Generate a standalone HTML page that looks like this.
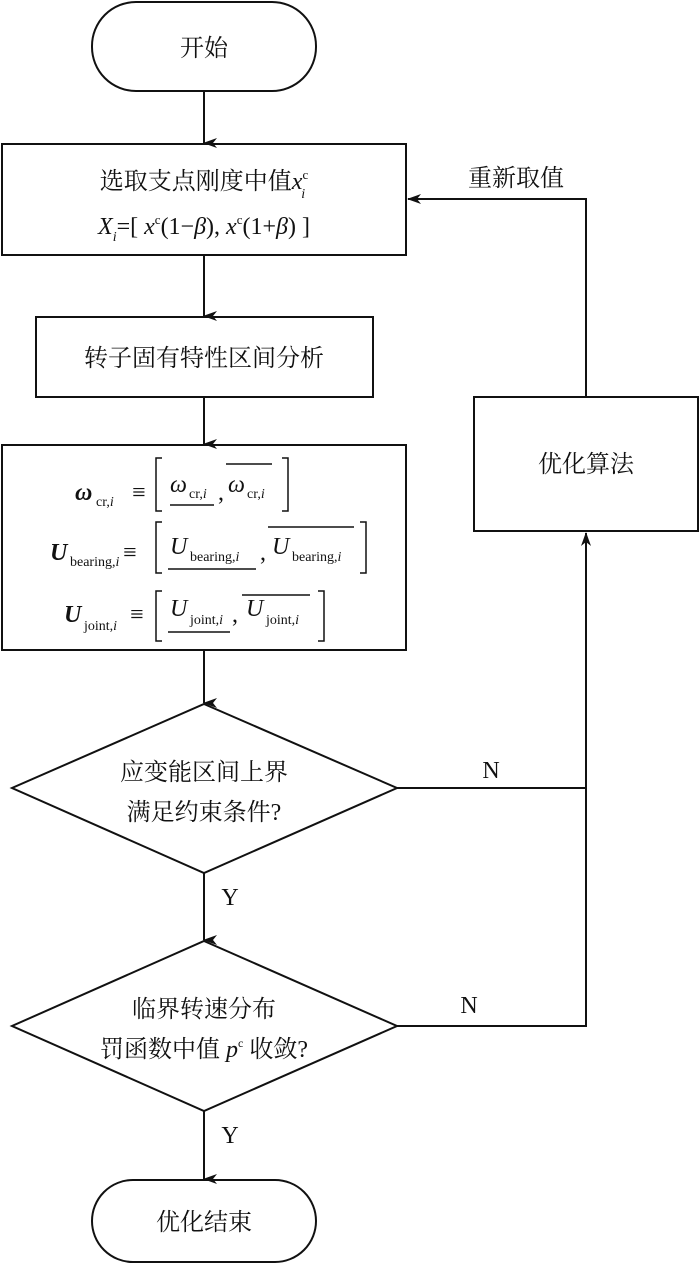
<!DOCTYPE html>
<html><head><meta charset="utf-8"><style>
html,body{margin:0;padding:0;background:#fff;}
svg{display:block;}
text{font-family:"Liberation Serif","Noto Serif CJK SC","Noto Sans CJK SC",serif;fill:#111;}
</style></head><body>
<svg width="700" height="1270" viewBox="0 0 700 1270" xmlns="http://www.w3.org/2000/svg">
<defs><marker id="a" markerWidth="10" markerHeight="14" refX="5" refY="13" orient="auto-start-reverse" markerUnits="userSpaceOnUse" viewBox="0 0 10 14"><path d="M0,0 L5,14 L10,0 L5,4 Z" fill="#111"/></marker>
<marker id="h" markerWidth="14" markerHeight="10" refX="1" refY="5" orient="0" markerUnits="userSpaceOnUse" viewBox="0 0 14 10"><path d="M0,5 L14,0 L10,5 L14,10 Z" fill="#111"/></marker>
<marker id="u" markerWidth="10" markerHeight="14" refX="5" refY="1" orient="0" markerUnits="userSpaceOnUse" viewBox="0 0 10 14"><path d="M5,0 L0,14 L5,10 L10,14 Z" fill="#111"/></marker></defs>
<g fill="none" stroke="#111" stroke-width="2">
<rect x="92" y="2" width="224" height="89" rx="44" ry="44"/>
<rect x="2" y="144" width="404" height="111"/>
<rect x="36" y="317" width="337" height="80"/>
<rect x="2" y="445" width="404" height="205"/>
<polygon points="204,704 397,788 204,873 12,788"/>
<polygon points="204,941 397,1026 204,1111 12,1026"/>
<rect x="92" y="1180" width="224" height="82" rx="41" ry="41"/>
<rect x="474" y="397" width="224" height="134"/>
<line x1="204" y1="91" x2="204" y2="143" marker-end="url(#a)"/>
<line x1="204" y1="255" x2="204" y2="316" marker-end="url(#a)"/>
<line x1="204" y1="397" x2="204" y2="444" marker-end="url(#a)"/>
<line x1="204" y1="650" x2="204" y2="703" marker-end="url(#a)"/>
<line x1="204" y1="873" x2="204" y2="940" marker-end="url(#a)"/>
<line x1="204" y1="1111" x2="204" y2="1179" marker-end="url(#a)"/>
<polyline points="586,397 586,199 408,199" marker-end="url(#h)"/>
<polyline points="397,788 586,788"/>
<polyline points="397,1026 586,1026 586,533" marker-end="url(#u)"/>
</g>
<g font-size="24" text-anchor="middle">
<text x="204" y="56">开始</text>
<text x="204" y="189">选取支点刚度中值<tspan font-style="italic">x</tspan><tspan font-size="13" dy="-10">c</tspan><tspan font-size="14" font-style="italic" dx="-7" dy="19">i</tspan></text>
<text x="204" y="234"><tspan font-style="italic">X</tspan><tspan font-size="14" font-style="italic" dy="7">i</tspan><tspan dy="-7">=[ </tspan><tspan font-style="italic">x</tspan><tspan font-size="13" dy="-10">c</tspan><tspan dy="10">(1−</tspan><tspan font-style="italic">β</tspan>), <tspan font-style="italic">x</tspan><tspan font-size="13" dy="-10">c</tspan><tspan dy="10">(1+</tspan><tspan font-style="italic">β</tspan>) ]</text>
<text x="204" y="366">转子固有特性区间分析</text>
<text x="586" y="472">优化算法</text>
<text x="516" y="186">重新取值</text>
<text x="204" y="780">应变能区间上界</text>
<text x="204" y="820">满足约束条件?</text>
<text x="204" y="1017">临界转速分布</text>
<text x="204" y="1057">罚函数中值 <tspan font-style="italic">p</tspan><tspan font-size="12" dy="-10">c</tspan><tspan dy="10"> 收敛?</tspan></text>
<text x="204" y="1230">优化结束</text>
<text x="230" y="905">Y</text>
<text x="230" y="1143">Y</text>
<text x="491" y="778">N</text>
<text x="469" y="1013">N</text>
</g>
<g font-size="24">
<text x="75" y="500" font-weight="bold" font-style="italic">ω</text><text x="96" y="506" font-size="14">cr,<tspan font-style="italic">i</tspan></text>
<text x="132" y="500">≡</text>
<path d="M162,458 h-6 v53 h6 M282,458 h6 v53 h-6" fill="none" stroke="#111" stroke-width="1.5"/>
<text x="170" y="492" font-style="italic">ω</text><text x="189" y="498" font-size="14">cr,<tspan font-style="italic">i</tspan></text>
<line x1="170" y1="505" x2="214" y2="505" stroke="#111" stroke-width="1.5"/>
<text x="218" y="500">,</text>
<text x="228" y="492" font-style="italic">ω</text><text x="247" y="498" font-size="14">cr,<tspan font-style="italic">i</tspan></text>
<line x1="226" y1="464" x2="272" y2="464" stroke="#111" stroke-width="1.5"/>

<text x="50" y="560" font-weight="bold" font-style="italic">U</text><text x="70" y="566" font-size="14">bearing,<tspan font-style="italic">i</tspan></text>
<text x="123" y="560">≡</text>
<path d="M162,522 h-6 v51 h6 M360,522 h6 v51 h-6" fill="none" stroke="#111" stroke-width="1.5"/>
<text x="170" y="554" font-style="italic">U</text><text x="190" y="561" font-size="14">bearing,<tspan font-style="italic">i</tspan></text>
<line x1="168" y1="569" x2="256" y2="569" stroke="#111" stroke-width="1.5"/>
<text x="260" y="560">,</text>
<text x="272" y="554" font-style="italic">U</text><text x="292" y="561" font-size="14">bearing,<tspan font-style="italic">i</tspan></text>
<line x1="268" y1="527" x2="354" y2="527" stroke="#111" stroke-width="1.5"/>

<text x="64" y="622" font-weight="bold" font-style="italic">U</text><text x="84" y="630" font-size="14">joint,<tspan font-style="italic">i</tspan></text>
<text x="130" y="622">≡</text>
<path d="M162,591 h-6 v50 h6 M318,591 h6 v50 h-6" fill="none" stroke="#111" stroke-width="1.5"/>
<text x="170" y="616" font-style="italic">U</text><text x="190" y="624" font-size="14">joint,<tspan font-style="italic">i</tspan></text>
<line x1="168" y1="632" x2="230" y2="632" stroke="#111" stroke-width="1.5"/>
<text x="232" y="622">,</text>
<text x="246" y="616" font-style="italic">U</text><text x="266" y="624" font-size="14">joint,<tspan font-style="italic">i</tspan></text>
<line x1="242" y1="595" x2="310" y2="595" stroke="#111" stroke-width="1.5"/>
</g>
</svg>
</body></html>
